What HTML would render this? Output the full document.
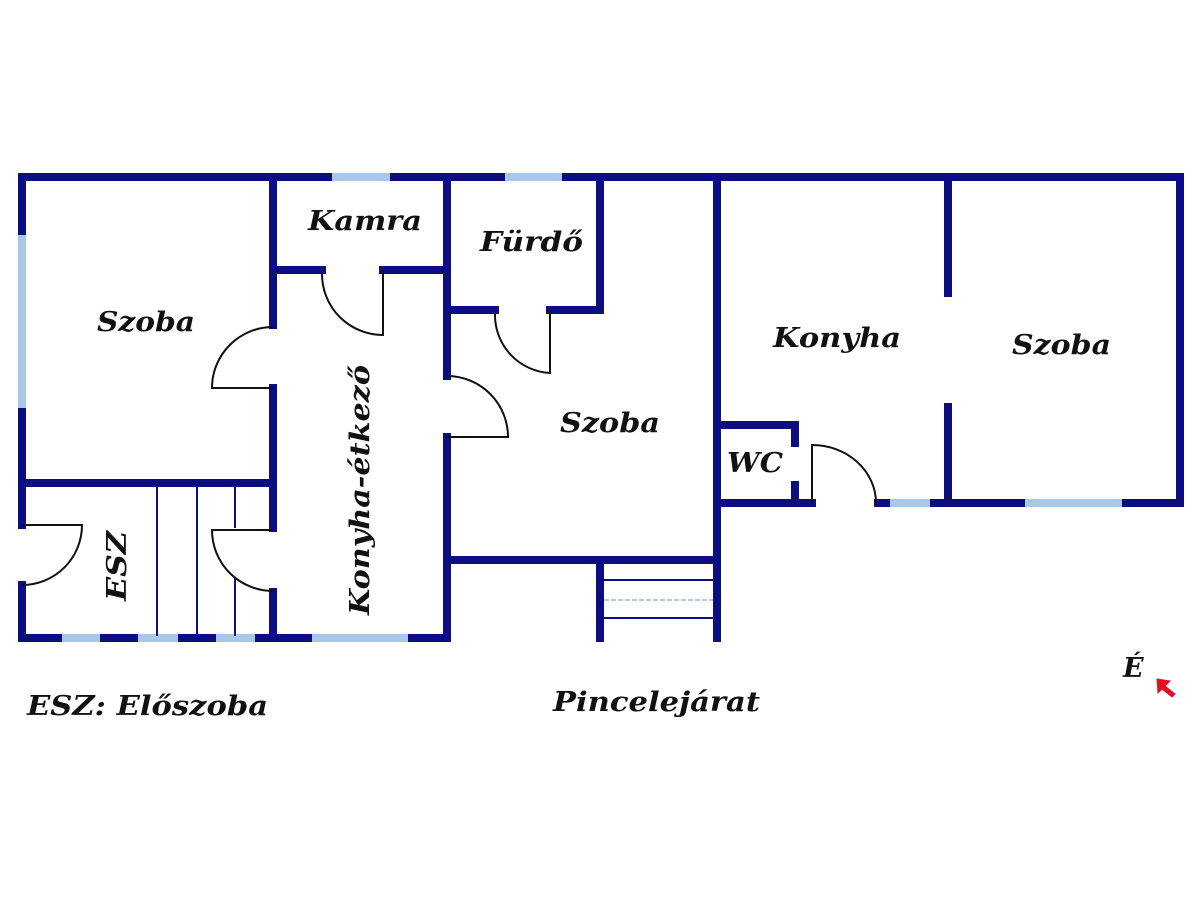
<!DOCTYPE html>
<html><head><meta charset="utf-8"><style>
html,body{margin:0;padding:0;background:#fff;}
svg{display:block;}
text{font-family:"DejaVu Serif","Liberation Serif",serif;font-weight:bold;font-style:italic;fill:#111;font-size:27px;}
</style></head><body>
<svg width="1200" height="899" viewBox="0 0 1200 899" xmlns="http://www.w3.org/2000/svg">
<rect width="1200" height="899" fill="#fff"/>
<g stroke="#0d0d82" stroke-width="8" stroke-linecap="square" fill="none">
<!-- outer -->
<line x1="22" y1="177" x2="1180" y2="177"/>
<line x1="22" y1="177" x2="22" y2="525"/>
<line x1="22" y1="585" x2="22" y2="638"/>
<line x1="22" y1="638" x2="447" y2="638"/>
<line x1="1180" y1="177" x2="1180" y2="503"/>
<!-- x=273 -->
<line x1="273" y1="177" x2="273" y2="325"/>
<line x1="273" y1="388" x2="273" y2="528"/>
<line x1="273" y1="592" x2="273" y2="638"/>
<!-- kamra bottom -->
<line x1="273" y1="270" x2="322" y2="270"/>
<line x1="383" y1="270" x2="447" y2="270"/>
<!-- x=447 -->
<line x1="447" y1="177" x2="447" y2="376"/>
<line x1="447" y1="437" x2="447" y2="638"/>
<!-- furdo -->
<line x1="600" y1="177" x2="600" y2="310"/>
<line x1="447" y1="310" x2="495" y2="310"/>
<line x1="550" y1="310" x2="600" y2="310"/>
<!-- x=717 -->
<line x1="717" y1="177" x2="717" y2="638"/>
<line x1="447" y1="560" x2="717" y2="560"/>
<line x1="600" y1="560" x2="600" y2="638"/>
<!-- left szoba bottom -->
<line x1="22" y1="483" x2="273" y2="483"/>
<!-- konyha/szoba divider -->
<line x1="948" y1="177" x2="948" y2="293"/>
<line x1="948" y1="407" x2="948" y2="503"/>
<!-- WC -->
<line x1="717" y1="425" x2="795" y2="425"/>
<line x1="795" y1="425" x2="795" y2="443"/>
<line x1="795" y1="485" x2="795" y2="503"/>
<line x1="717" y1="503" x2="812" y2="503"/>
<line x1="878" y1="503" x2="1180" y2="503"/>
</g>
<!-- windows -->
<g stroke="#a9c8e8" stroke-width="8">
<line x1="22" y1="235" x2="22" y2="408"/>
<line x1="332" y1="177" x2="390" y2="177"/>
<line x1="505" y1="177" x2="562" y2="177"/>
<line x1="62" y1="638" x2="100" y2="638"/>
<line x1="138" y1="638" x2="178" y2="638"/>
<line x1="216" y1="638" x2="255" y2="638"/>
<line x1="312" y1="638" x2="408" y2="638"/>
<line x1="890" y1="503" x2="930" y2="503"/>
<line x1="1025" y1="503" x2="1122" y2="503"/>
</g>
<!-- thin lines -->
<g stroke="#0d0d82" stroke-width="2" fill="none">
<line x1="157" y1="487" x2="157" y2="636"/>
<line x1="197" y1="487" x2="197" y2="636"/>
<line x1="235" y1="487" x2="235" y2="528"/>
<line x1="235" y1="578" x2="235" y2="636"/>
<line x1="604" y1="580" x2="713" y2="580"/>
<line x1="604" y1="600" x2="713" y2="600" stroke="#b8c8e8" stroke-dasharray="5,2"/>
<line x1="604" y1="618" x2="713" y2="618"/>
</g>
<!-- doors -->
<g stroke="#111" stroke-width="2" fill="none">
<path d="M273 388 H212 A61 61 0 0 1 273 327"/>
<path d="M383 270 V335 A61 61 0 0 1 322 274"/>
<path d="M550 310 V373 A58 58 0 0 1 495 314"/>
<path d="M447 437 H508 A61 61 0 0 0 447 376"/>
<path d="M273 530 H212 A61 61 0 0 0 273 591"/>
<path d="M22 525 H82 A60 60 0 0 1 22 585"/>
<path d="M812 503 V445 A64 58 0 0 1 876 503"/>
</g>
<!-- labels -->
<text x="308" y="230" textLength="114" lengthAdjust="spacingAndGlyphs">Kamra</text>
<text x="97" y="331" textLength="98" lengthAdjust="spacingAndGlyphs">Szoba</text>
<text x="480" y="251" textLength="103" lengthAdjust="spacingAndGlyphs">Fürdő</text>
<text x="560" y="432" textLength="100" lengthAdjust="spacingAndGlyphs">Szoba</text>
<text x="773" y="347" textLength="128" lengthAdjust="spacingAndGlyphs">Konyha</text>
<text x="1012" y="354" textLength="99" lengthAdjust="spacingAndGlyphs">Szoba</text>
<text x="727" y="472" textLength="56" lengthAdjust="spacingAndGlyphs">WC</text>
<text transform="translate(126,601) rotate(-90)" textLength="70" lengthAdjust="spacingAndGlyphs">ESZ</text>
<text transform="translate(369,615) rotate(-90)" textLength="250" lengthAdjust="spacingAndGlyphs">Konyha-étkező</text>
<text x="27" y="715" textLength="241" lengthAdjust="spacingAndGlyphs">ESZ: Előszoba</text>
<text x="553" y="711" textLength="207" lengthAdjust="spacingAndGlyphs">Pincelejárat</text>
<text x="1123" y="677" font-size="26">É</text>
<!-- red arrow -->
<g fill="#e01020" stroke="#e01020">
<polygon points="1157,679 1170,681 1165,686 1175,694 1172,697 1162,689 1158,693" stroke-width="1"/>
</g>
</svg>
</body></html>
